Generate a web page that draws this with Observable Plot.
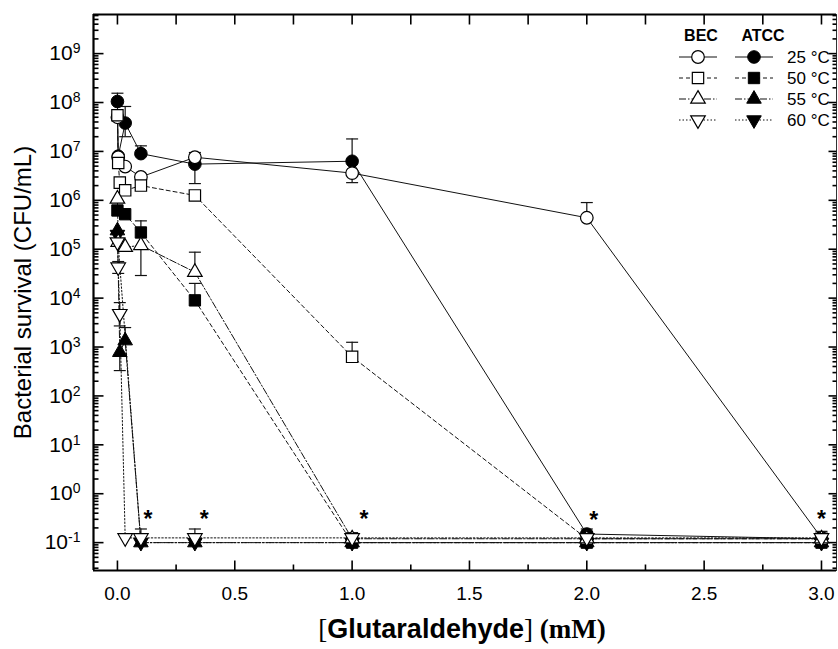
<!DOCTYPE html>
<html><head><meta charset="utf-8">
<script src="https://cdn.jsdelivr.net/npm/d3@7"></script>
<script src="https://cdn.jsdelivr.net/npm/@observablehq/plot@0.6"></script>
<style>
html,body{margin:0;padding:0;background:#fff;}
#chart svg{display:block;}
</style></head><body><div id="chart"></div>
<script>
// ---------------- data ----------------
const concentration = [0, 0.0033, 0.01, 0.033, 0.1, 0.33, 1, 2, 3];
const becAt25  = [5.0e7, 7.6e6, null, 4.9e6, 3.0e6, 7.6e6, 3.6e6, 4.4e5, 0.125];
const atccAt25 = [1.05e8, 8.0e6, null, 3.8e7, 9.0e6, 5.5e6, 6.3e6, 0.15, 0.12];
const becAt50  = [5.5e7, 5.8e6, 2.3e6, 1.6e6, 2.0e6, 1.26e6, 630, 0.12, 0.12];
const atccAt50 = [6.2e5, null, null, 5.2e5, 2.2e5, 9.0e3, 0.1, 0.1, 0.1];
const becAt55  = [1.07e6, 1.4e5, null, 1.1e5, 1.2e5, 3.4e4, 0.12, 0.12, 0.12];
const atccAt55 = [2.4e5, null, 780, 1350, 0.1, 0.1, 0.1, 0.1, 0.1];
const becAt60  = [1.4e5, 4.3e4, 4.8e3, 0.125, 0.125, 0.125, 0.125, 0.125, 0.125];
const atccAt60 = [2.0e5, null, null, null, 0.1, 0.1, 0.1, 0.1, 0.1];

const temperatures = ["25 °C", "50 °C", "55 °C", "60 °C"];
const groups = ["BEC", "ATCC"];

// error bars: concentration, mean, low, high
const errConc = [0, 0.033, 0.1, 0.33, 1, 1, 2, 1, 0.1, 0.1, 0.33, 0.33, 0.0033, 0.01, 0.033, 0.01, 0.1, 0.33, 1, 2, 3, 2];
const errMean = [1.05e8, 3.8e7, 9.0e6, 5.5e6, 6.3e6, 3.6e6, 4.4e5, 630, 1.2e5, 2.2e5, 3.4e4, 9.0e3, 4.3e4, 4.8e3, 1350, 780, 0.125, 0.125, 0.125, 0.125, 0.125, 0.15];
const errLow  = [1.05e8, 2.0e7, 9.0e6, 2.2e6, 6.3e6, 2.3e6, 4.4e5, 630, 2.9e4, 2.2e5, 3.4e4, 9.0e3, 3.2e4, 2.7e3, 1350, 330, 0.125, 0.125, 0.125, 0.125, 0.125, 0.15];
const errHigh = [1.55e8, 8.3e7, 1.3e7, 9.5e6, 1.8e7, 3.6e6, 9.0e5, 1250, 1.2e5, 3.8e5, 8.7e4, 2.0e4, 5.6e4, 8.1e3, 2500, 780, 0.19, 0.19, 0.16, 0.17, 0.17, 0.19];

// significance asterisks
const starConc = [0.13, 0.37, 1.05, 2.03, 3.0];
const starVal  = [0.30, 0.30, 0.30, 0.28, 0.30];

const xTickValues = [0, 0.5, 1, 1.5, 2, 2.5, 3];
const xMinorValues = [0.25, 0.75, 1.25, 1.75, 2.25, 2.75];
const yExponents = [-1, 0, 1, 2, 3, 4, 5, 6, 7, 8, 9];

// ---------------- styling ----------------
const FONT = "Arial, 'Liberation Sans', Helvetica, sans-serif";
const SERIF = "'Times New Roman', 'Liberation Serif', Times, serif";
const xDomain = [-0.102, 3.064];
const yDomain = [Math.pow(10, -1.57), Math.pow(10, 9.8)];

const downTriangle = {draw(ctx, size) {
  const y = Math.sqrt(size / (Math.sqrt(3) * 3));
  ctx.moveTo(0, 2 * y); ctx.lineTo(-Math.sqrt(3) * y, -y); ctx.lineTo(Math.sqrt(3) * y, -y); ctx.closePath();
}};
const capSym = {draw(ctx) { ctx.moveTo(-6, 0); ctx.lineTo(6, 0); }};
const segSym = (dx, dy) => ({draw(ctx) { ctx.moveTo(0, 0); ctx.lineTo(dx, dy); }});

const symbolInfo = [
  {plot: "circle", d3: d3.symbolCircle, r: 6.3},
  {plot: "square", d3: d3.symbolSquare, r: 6.4},
  {plot: "triangle", d3: d3.symbolTriangle, r: 5.4},
  {plot: downTriangle, d3: downTriangle, r: 5.4}
];
const dashes = [null, "4,3", "7,2,1.5,2", "1.5,2"];

const valueSets = [[becAt25, atccAt25], [becAt50, atccAt50], [becAt55, atccAt55], [becAt60, atccAt60]];
const seriesList = [];
temperatures.forEach((t, i) => {
  groups.forEach((g, j) => {
    const vals = valueSets[i][j];
    const rows = concentration.map((c, k) => ({c, v: vals[k]})).filter(d => d.v != null);
    seriesList.push({temp: t, group: g, rows, filled: g === "ATCC", sym: symbolInfo[i], dash: dashes[i]});
  });
});

const errRows = errConc.map((c, i) => ({c, v: errMean[i], lo: errLow[i], hi: errHigh[i]}));
const starRows = starConc.map((c, i) => ({c, v: starVal[i]}));
const yMajor = yExponents.map(e => Math.pow(10, e));
const yMinor = [];
for (let e = -2; e <= 9; e++) for (let m = 2; m <= 9; m++) {
  const v = m * Math.pow(10, e);
  if (v > yDomain[0] && v < yDomain[1]) yMinor.push(v);
}

// ---------------- marks ----------------
const marks = [];
for (const s of seriesList) {
  marks.push(Plot.line(s.rows, {x: "c", y: "v", stroke: "#111", strokeWidth: 1, strokeDasharray: s.dash || undefined}));
}
marks.push(Plot.ruleX(errRows, {x: "c", y1: "lo", y2: "hi", stroke: "#111", strokeWidth: 1.2}));
marks.push(Plot.dot(errRows.filter(d => d.hi > d.v), {x: "c", y: "hi", symbol: capSym, r: 1, fill: "none", stroke: "#111", strokeWidth: 1.2}));
marks.push(Plot.dot(errRows.filter(d => d.lo < d.v), {x: "c", y: "lo", symbol: capSym, r: 1, fill: "none", stroke: "#111", strokeWidth: 1.2}));
// filled first, open markers on top
for (const s of seriesList.filter(s => s.filled)) {
  marks.push(Plot.dot(s.rows, {x: "c", y: "v", symbol: s.sym.plot, r: s.sym.r, fill: "black", stroke: "black", strokeWidth: 1}));
}
for (const s of seriesList.filter(s => !s.filled)) {
  marks.push(Plot.dot(s.rows, {x: "c", y: "v", symbol: s.sym.plot, r: s.sym.r, fill: "white", stroke: "black", strokeWidth: 1.2}));
}
marks.push(Plot.text(starRows, {x: "c", y: "v", text: () => "*", fontSize: 23, fontWeight: "bold", fill: "black"}));

// frame and inward ticks
marks.push(Plot.frame({stroke: "#333", strokeWidth: 1}));
marks.push(Plot.ruleX([xDomain[0]], {stroke: "black", strokeWidth: 2.2}));
marks.push(Plot.ruleY([yDomain[0]], {stroke: "black", strokeWidth: 2.2}));
marks.push(Plot.ruleY([yDomain[1]], {stroke: "black", strokeWidth: 2.2}));
const tk = (data, ch, anchor, dx, dy) => Plot.dot(data, {[ch]: d => d, frameAnchor: anchor, symbol: segSym(dx, dy), r: 1, fill: "none", stroke: "black", strokeWidth: 1.6});
marks.push(tk(xTickValues, "x", "bottom", 0, -10));
marks.push(tk(xMinorValues, "x", "bottom", 0, -6));
marks.push(tk(xTickValues, "x", "top", 0, 10));
marks.push(tk(xMinorValues, "x", "top", 0, 10));
marks.push(tk(yMajor, "y", "left", 10, 0));
marks.push(tk(yMinor, "y", "left", 5, 0));
marks.push(tk(yMajor, "y", "right", -8, 0));
marks.push(tk(yMinor, "y", "right", -4, 0));

marks.push(Plot.axisX({ticks: xTickValues, tickFormat: d => d.toFixed(1), tickSize: 0, tickPadding: 16, fontSize: 19, label: null}));
marks.push(Plot.axisY({ticks: yMajor, tickFormat: d => "10^" + Math.round(Math.log10(d)), tickSize: 0, tickPadding: 13, fontSize: 21, label: null}));

// axis titles
marks.push(Plot.text(["Bacterial survival (CFU/mL)"], {text: d => d, frameAnchor: "left", textAnchor: "middle", dx: -70, rotate: -90, fontSize: 24, fill: "black"}));
marks.push(Plot.text(["[Glutaraldehyde] (mM)"], {text: d => d, frameAnchor: "bottom", textAnchor: "middle", dy: 67, dx: -3, fontSize: 27, fontWeight: "bold", fill: "black"}));

// legend
marks.push((index, scales, values, dims) => {
  const R = dims.width - dims.marginRight, T = dims.marginTop;
  const g = d3.create("svg:g").attr("font-family", FONT).attr("fill", "black");
  const colX = [R - 138, R - 82];
  groups.forEach((name, j) => {
    g.append("text").attr("x", colX[j] + (j === 0 ? 3 : 9)).attr("y", T + 21).attr("dy", "0.35em")
      .attr("text-anchor", "middle").attr("font-size", 16).attr("font-weight", "bold").text(name);
  });
  temperatures.forEach((t, i) => {
    const y = T + 43 + i * 21;
    const info = symbolInfo[i];
    groups.forEach((name, j) => {
      const cx = colX[j];
      g.append("line").attr("x1", cx - 19).attr("x2", cx + 19).attr("y1", y).attr("y2", y)
        .attr("stroke", "#111").attr("stroke-width", 1).attr("stroke-dasharray", dashes[i]);
      g.append("path").attr("transform", `translate(${cx},${y})`)
        .attr("d", d3.symbol().type(info.d3).size(Math.PI * info.r * info.r)())
        .attr("fill", j === 0 ? "white" : "black").attr("stroke", "black").attr("stroke-width", j === 0 ? 1.2 : 1);
    });
    g.append("text").attr("x", R - 49).attr("y", y).attr("dy", "0.35em").attr("text-anchor", "start")
      .attr("font-size", 17).text(t);
  });
  return g.node();
});

const chart = Plot.plot({
  width: 838, height: 649,
  marginLeft: 93, marginRight: 2, marginTop: 14, marginBottom: 79,
  style: {fontFamily: FONT, color: "black", background: "white", overflow: "visible"},
  x: {domain: xDomain},
  y: {type: "log", domain: yDomain},
  marks
});

// superscript exponents on y tick labels
chart.querySelectorAll('g[aria-label="y-axis tick label"] text').forEach(t => {
  const m = /^10\^(-?\d+)$/.exec(t.textContent);
  if (!m) return;
  t.textContent = "10";
  const sup = document.createElementNS("http://www.w3.org/2000/svg", "tspan");
  sup.setAttribute("dy", "-0.5em");
  sup.setAttribute("font-size", "14");
  sup.textContent = m[1];
  t.appendChild(sup);
});
// mixed fonts for x title
chart.querySelectorAll("text").forEach(t => {
  if (t.textContent !== "[Glutaraldehyde] (mM)") return;
  t.textContent = "";
  const parts = [["[", SERIF, "normal"], ["Glutaraldehyde", FONT, "bold"], ["]", SERIF, "normal"], [" (mM)", SERIF, "bold"]];
  for (const [s, f, w] of parts) {
    const ts = document.createElementNS("http://www.w3.org/2000/svg", "tspan");
    ts.setAttribute("font-family", f); ts.setAttribute("font-weight", w); ts.textContent = s;
    t.appendChild(ts);
  }
});
document.getElementById("chart").appendChild(chart);
</script></body></html>
